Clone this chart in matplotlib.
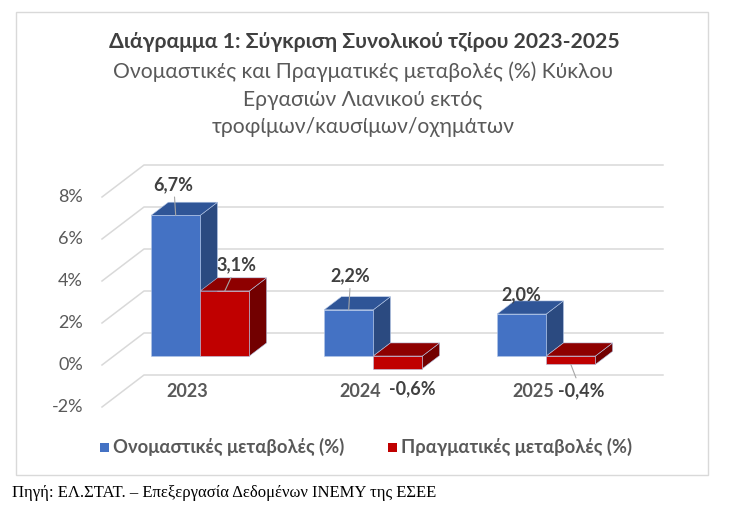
import matplotlib.pyplot as plt
from matplotlib.patches import Polygon, Rectangle

plt.rcParams['font.family'] = ['Lato', 'DejaVu Sans']

# Δεδομένα
years = ['2023', '2024', '2025']
nominal = [6.7, 2.2, 2.0]
real = [3.1, -0.6, -0.4]
series_names = ['Ονομαστικές μεταβολές (%)', 'Πραγματικές μεταβολές (%)']
yticks = [-2, 0, 2, 4, 6, 8]

# Χρώματα (μπροστά, πάνω, πλάι)
blue = ('#4472C4', '#2F5597', '#2B4A80')
red = ('#C00000', '#8E0000', '#720000')
grid_color = '#D9D9D9'
text_dark = '#404040'
text_grey = '#595959'

W, H = 738, 512
fig = plt.figure(figsize=(W / 100, H / 100), dpi=100)

# άξονες στο "μπροστινό" επίπεδο
left, right, top, bottom = 102, 621, 197, 407
ax = fig.add_axes([left / W, 1 - bottom / H, (right - left) / W, (bottom - top) / H])
ax.set_xlim(-0.5, 2.5)
ax.set_ylim(-2, 8)
ax.axis('off')

DX = 42 / 173   # βάθος σε μονάδες x
DY = 32 / 21    # βάθος σε μονάδες y (%)

# πλέγμα: πλάγιος τοίχος + πίσω τοίχος
for v in yticks:
    ax.plot([-0.5, -0.5 + DX, 2.5 + DX], [v, v + DY, v + DY],
            color=grid_color, lw=1.1, clip_on=False, zorder=1)
    ax.text(-0.61, v, f'{v}%', ha='right', va='center', fontsize=13,
            color=text_grey)

def bar3d(x0, w, v, d0, d1, cols):
    lo, hi = min(v, 0), max(v, 0)
    ox0, oy0 = d0 * DX, d0 * DY
    ox1, oy1 = d1 * DX, d1 * DY
    front = [(x0 + ox0, lo + oy0), (x0 + w + ox0, lo + oy0),
             (x0 + w + ox0, hi + oy0), (x0 + ox0, hi + oy0)]
    topf = [(x0 + ox0, hi + oy0), (x0 + w + ox0, hi + oy0),
            (x0 + w + ox1, hi + oy1), (x0 + ox1, hi + oy1)]
    side = [(x0 + w + ox0, lo + oy0), (x0 + w + ox1, lo + oy1),
            (x0 + w + ox1, hi + oy1), (x0 + w + ox0, hi + oy0)]
    for pts, c in ((side, cols[2]), (topf, cols[1]), (front, cols[0])):
        ax.add_patch(Polygon(pts, closed=True, facecolor=c,
                             edgecolor='#B4C7E7', lw=0.4, clip_on=False, zorder=3))
    return x0 + w / 2 + ox0, oy0

bw = 0.284
d0, d1 = 0.28, 0.69
# μετατόπιση ετικετών σε pixels, γραμμή οδηγός ναι/όχι
lab_nom = [(-2, 31, True), (2, 34, True), (0, 19, False)]
lab_real = [(12, 26, True), (14, -20, False), (10, -26, True)]

def fmt(v):
    return f'{v:.1f}%'.replace('.', ',')

for i, yr in enumerate(years):
    cx, oy = bar3d(i - bw, bw, nominal[i], d0, d1, blue)
    dx, dy, lead = lab_nom[i]
    ax.annotate(fmt(nominal[i]), xy=(cx, nominal[i] + oy),
                xytext=(dx, dy), textcoords='offset pixels', ha='center', va='center',
                fontsize=13, fontweight='bold', color=text_dark, zorder=5,
                arrowprops=dict(arrowstyle='-', color='#A6A6A6', lw=0.8,
                                shrinkA=1, shrinkB=0) if lead else None)
    cx, oy = bar3d(i, bw, real[i], d0, d1, red)
    dx, dy, lead = lab_real[i]
    ax.annotate(fmt(real[i]), xy=(cx, real[i] + oy),
                xytext=(dx, dy), textcoords='offset pixels', ha='center', va='center',
                fontsize=13, fontweight='bold', color=text_dark, zorder=5,
                arrowprops=dict(arrowstyle='-', color='#A6A6A6', lw=0.8,
                                shrinkA=1, shrinkB=0) if lead else None)
    ax.text(i - 0.005, -1.24, yr, ha='center', va='center', fontsize=13,
            fontweight='bold', color=text_grey, zorder=5)

# Τίτλοι
fig.text(364 / W, 1 - 42 / H, 'Διάγραμμα 1: Σύγκριση Συνολικού τζίρου 2023-2025',
         ha='center', va='center', fontsize=15.2, fontweight='bold', color=text_dark)
subtitle = ['Ονομαστικές και Πραγματικές μεταβολές (%) Κύκλου',
            'Εργασιών Λιανικού εκτός',
            'τροφίμων/καυσίμων/οχημάτων']
for k, line in enumerate(subtitle):
    fig.text(363 / W, 1 - (72 + 27.5 * k) / H, line, ha='center', va='center',
             fontsize=15.2, color=text_grey)

# Υπόμνημα
for (name, cols, xs) in ((series_names[0], blue, 100), (series_names[1], red, 388)):
    fig.patches.append(Rectangle((xs / W, 1 - 452 / H), 9 / W, 9 / H,
                                 transform=fig.transFigure, facecolor=cols[0],
                                 edgecolor='none'))
    fig.text((xs + 13) / W, 1 - 447 / H, name, ha='left', va='center',
             fontsize=13.2, fontweight='bold', color=text_grey)

# Πλαίσιο
fig.patches.append(Rectangle((16 / W, 1 - 475 / H), 692 / W, 463 / H,
                             transform=fig.transFigure, facecolor='none',
                             edgecolor='#D9D9D9', lw=1))

fig.text(12 / W, 1 - 493 / H, 'Πηγή: ΕΛ.ΣΤΑΤ. – Επεξεργασία Δεδομένων ΙΝΕΜΥ της ΕΣΕΕ',
         ha='left', va='center', fontsize=12, family=['Liberation Serif', 'DejaVu Serif'],
         color='black')

fig.savefig('out.png', dpi=100)
